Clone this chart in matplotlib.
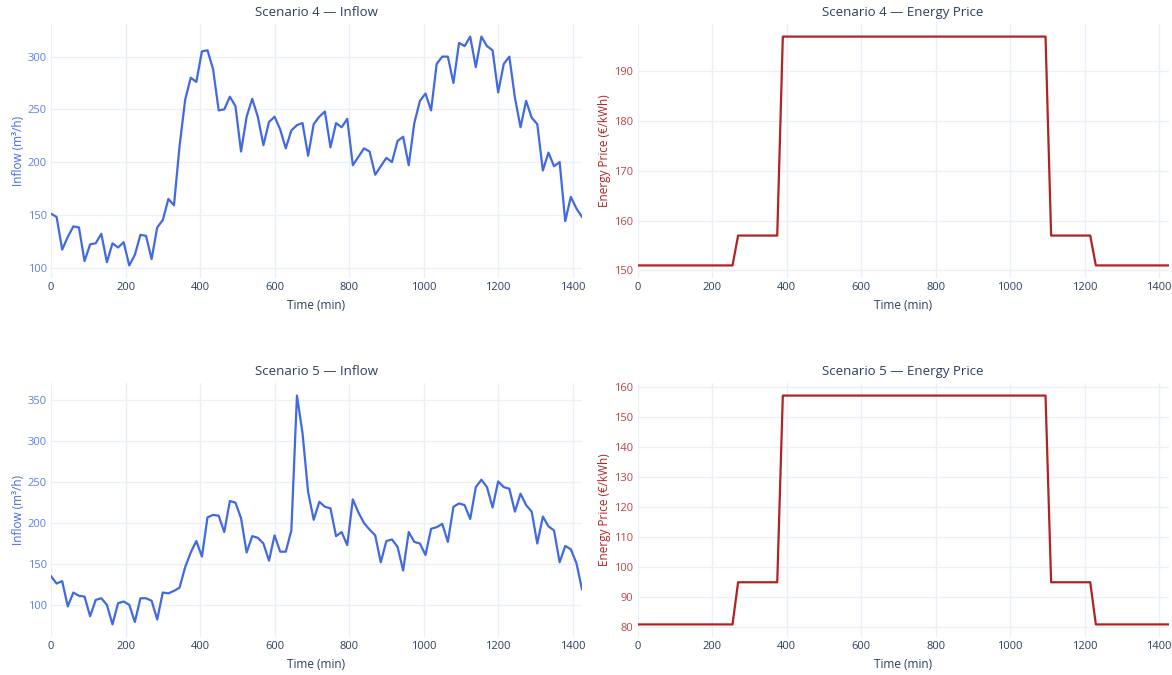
import matplotlib.pyplot as plt
import numpy as np

plt.rcParams['font.family'] = ['Open Sans', 'DejaVu Sans']

# 15-minute steps over one day
time = np.arange(0, 1440, 15)

inflow_s4 = [151, 148, 117, 129, 139, 138, 106, 122, 123, 132,
             105, 123, 119, 124, 102, 112, 131, 130, 108, 138,
             145, 165, 159, 215, 259, 280, 276, 305, 306, 288,
             249, 250, 262, 253, 210, 243, 260, 243, 216, 238,
             243, 231, 213, 230, 235, 237, 206, 236, 243, 248,
             214, 237, 233, 241, 197, 205, 213, 210, 188, 196,
             204, 200, 220, 224, 197, 237, 258, 265, 249, 293,
             300, 300, 275, 313, 310, 319, 290, 319, 310, 306,
             266, 293, 300, 261, 233, 258, 242, 236, 192, 209,
             196, 200, 144, 167, 156, 148]

inflow_s5 = [135, 126, 129, 98, 115, 111, 110, 86, 106, 108,
             100, 76, 102, 104, 100, 79, 108, 108, 105, 82,
             115, 114, 117, 121, 146, 164, 178, 159, 207, 210,
             209, 189, 227, 225, 206, 164, 184, 182, 175, 154,
             185, 165, 165, 191, 356, 310, 238, 204, 226, 220,
             218, 184, 189, 173, 229, 213, 200, 192, 185, 152,
             178, 180, 171, 142, 189, 177, 175, 161, 193, 195,
             199, 177, 220, 224, 222, 205, 244, 253, 244, 219,
             251, 244, 242, 214, 236, 222, 214, 175, 208, 196,
             191, 152, 172, 168, 151, 119]

# tariff breakpoints (min) and price levels
price_t = [0, 255, 270, 375, 390, 1095, 1110, 1215, 1230, 1425]
price_s4 = [151, 151, 157, 157, 197, 197, 157, 157, 151, 151]
price_s5 = [81, 81, 95, 95, 157, 157, 95, 95, 81, 81]

BLUE = '#4169E1'
RED = '#B22222'
TEXT = '#2a3f5f'
GRID = '#EBF0F8'

fig = plt.figure(figsize=(11.72, 6.75), dpi=100)

W, H = 1172, 675
panels = [
    (51, 24, time, inflow_s4, 'Scenario 4 — Inflow', 'Inflow (m³/h)', BLUE, 50),
    (637.5, 24, price_t, price_s4, 'Scenario 4 — Energy Price', 'Energy Price (€/kWh)', RED, 10),
    (51, 383, time, inflow_s5, 'Scenario 5 — Inflow', 'Inflow (m³/h)', BLUE, 50),
    (637.5, 383, price_t, price_s5, 'Scenario 5 — Energy Price', 'Energy Price (€/kWh)', RED, 10),
]

for left, top, xs, values, title, ylabel, color, ystep in panels:
    ax = fig.add_axes([left / W, 1 - (top + 254) / H, 531 / W, 254 / H])
    ax.plot(xs, values, color=color, lw=1.6)
    ax.set_xlim(0, 1425)
    lo, hi = min(values), max(values)
    pad = (hi - lo) * 0.055
    ax.set_ylim(lo - pad, hi + pad)

    ax.set_xticks(np.arange(0, 1401, 200))
    ax.set_yticks(np.arange(np.ceil((lo - pad) / ystep) * ystep, hi + pad, ystep))
    ax.grid(True, color=GRID, lw=1)
    ax.set_axisbelow(True)
    for s in ax.spines.values():
        s.set_visible(False)
    ax.tick_params(length=0, labelsize=8)
    ax.tick_params(axis='x', colors=TEXT, pad=3)
    ax.tick_params(axis='y', colors=color, pad=3)
    for lab in ax.get_yticklabels():
        lab.set_alpha(0.85)

    ax.set_title(title, color=TEXT, fontsize=9.5, pad=6)
    ax.set_xlabel('Time (min)', color=TEXT, fontsize=8.5, labelpad=4)
    ax.set_ylabel(ylabel, color=color, fontsize=8.5, labelpad=2)

fig.savefig('out.png', dpi=100, facecolor='white')
